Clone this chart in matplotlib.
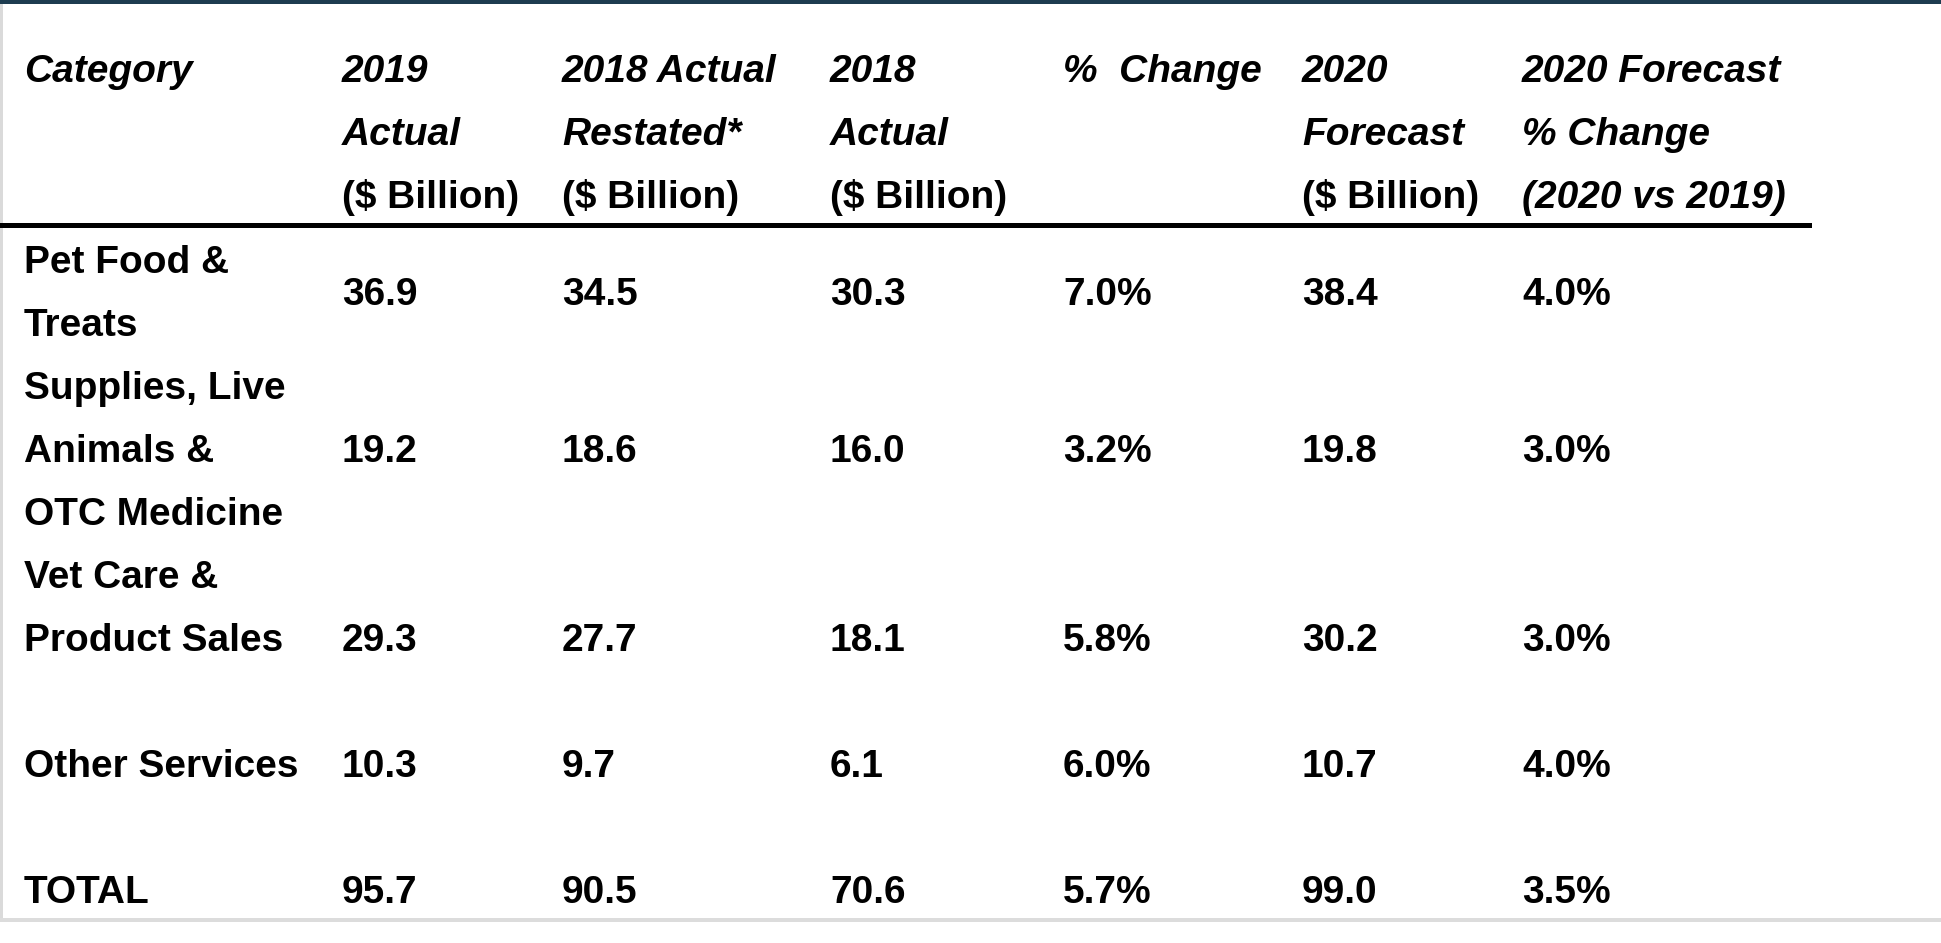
import matplotlib
matplotlib.use("agg")
import matplotlib.pyplot as plt
from matplotlib.patches import Rectangle

# table data
categories = [["Pet Food &", "Treats"],
              ["Supplies, Live", "Animals &", "OTC Medicine"],
              ["Vet Care &", "Product Sales"],
              ["Other Services"],
              ["TOTAL"]]
actual_2019 = [36.9, 19.2, 29.3, 10.3, 95.7]
restated_2018 = [34.5, 18.6, 27.7, 9.7, 90.5]
actual_2018 = [30.3, 16.0, 18.1, 6.1, 70.6]
pct_change = [7.0, 3.2, 5.8, 6.0, 5.7]
forecast_2020 = [38.4, 19.8, 30.2, 10.7, 99.0]
forecast_pct = [4.0, 3.0, 3.0, 4.0, 3.5]

# header lines: (text, italic)
headers = [
    [("Category", True)],
    [("2019", True), ("Actual", True), ("($ Billion)", False)],
    [("2018 Actual", True), ("Restated*", True), ("($ Billion)", False)],
    [("2018", True), ("Actual", True), ("($ Billion)", False)],
    [("%  Change", True)],
    [("2020", True), ("Forecast", True), ("($ Billion)", False)],
    [("2020 Forecast", True), ("% Change", True), ("(2020 vs 2019)", True)],
]

W, H = 1941, 943
col_x = [24, 342, 562, 830, 1063, 1302, 1522]
header_base = [82, 145, 208]
line_h = 63
# first line baseline of each category block and the line used for values
row_top = [273, 399, 588, 777, 903]
value_base = [305, 462, 651, 777, 903]

fs = 28
font = "Liberation Sans"

fig = plt.figure(figsize=(W / 100, H / 100), dpi=100)
ax = fig.add_axes([0, 0, 1, 1])
ax.set_xlim(0, W)
ax.set_ylim(H, 0)
ax.axis("off")

# frame bits
ax.add_patch(Rectangle((0, 0), W, 4, color="#1d3c50", lw=0))
ax.add_patch(Rectangle((0, 4), 2.5, 918, color="#dadada", lw=0))
ax.add_patch(Rectangle((0, 918), W, 4, color="#dcdcdc", lw=0))
ax.add_patch(Rectangle((0, 222.5), 1812, 5, color="black", lw=0))

for x, lines in zip(col_x, headers):
    for i, (txt, it) in enumerate(lines):
        ax.text(x, header_base[i], txt, fontsize=fs, family=font, weight="bold",
                style="italic" if it else "normal", ha="left", va="baseline")

for r, cat in enumerate(categories):
    for i, txt in enumerate(cat):
        ax.text(col_x[0], row_top[r] + i * line_h, txt, fontsize=fs, family=font,
                weight="bold", ha="left", va="baseline")
    vals = [f"{actual_2019[r]:.1f}", f"{restated_2018[r]:.1f}", f"{actual_2018[r]:.1f}",
            f"{pct_change[r]:.1f}%", f"{forecast_2020[r]:.1f}", f"{forecast_pct[r]:.1f}%"]
    for x, v in zip(col_x[1:], vals):
        ax.text(x, value_base[r], v, fontsize=fs, family=font, weight="bold",
                ha="left", va="baseline")

fig.savefig("out.png", dpi=100)
